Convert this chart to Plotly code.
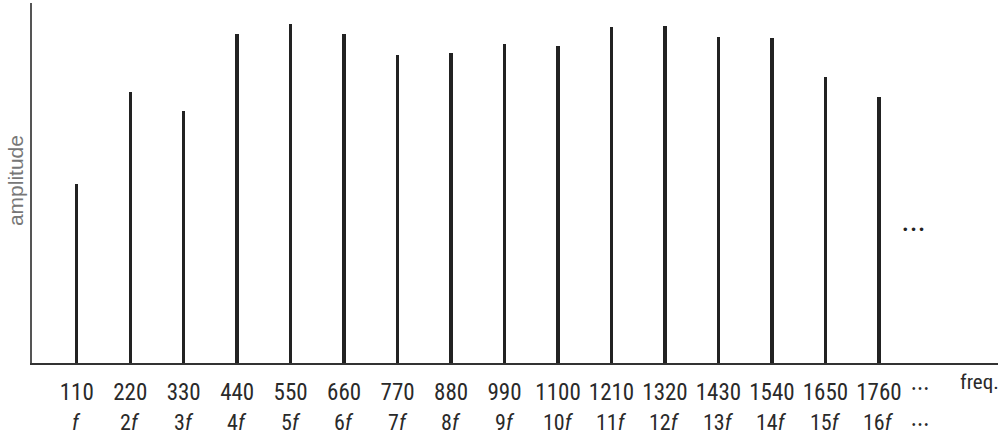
import plotly.graph_objects as go

freqs = [110, 220, 330, 440, 550, 660, 770, 880, 990, 1100, 1210, 1320, 1430, 1540, 1650, 1760]
amplitudes = [0.497, 0.753, 0.700, 0.914, 0.942, 0.914, 0.856, 0.861, 0.886, 0.881,
              0.933, 0.936, 0.906, 0.903, 0.794, 0.739]
freq_labels = [str(f) for f in freqs]
harmonic_labels = ["<i>f</i>"] + [f"{n}<i>f</i>" for n in range(2, 17)]

FONT = "'Liberation Sans Narrow', 'Arial Narrow', 'Roboto Condensed', 'Liberation Sans', sans-serif"
INK = "#222222"
TXT = "#2a2a2a"
DOTS = "•&#8202;•&#8202;•"

fig = go.Figure()
fig.add_trace(go.Bar(
    x=freqs, y=amplitudes, width=7,
    marker=dict(color=INK, line=dict(width=0)),
    hoverinfo="x+y", showlegend=False,
))

annotations = []
for f, h in zip(freqs, harmonic_labels):
    annotations.append(dict(x=f, y=-0.165, xref="x", yref="paper", text=h, showarrow=False,
                            xanchor="center", yanchor="middle",
                            font=dict(family=FONT, size=22, color=TXT)))
annotations += [
    dict(x=1832, y=0.372, xref="x", yref="paper", text="• • •", showarrow=False,
         xanchor="center", yanchor="middle",
         font=dict(family="'Liberation Sans', sans-serif", size=13, color=INK)),
    dict(x=1846, y=-0.072, xref="x", yref="paper", text="• • •", showarrow=False,
         xanchor="center", yanchor="middle",
         font=dict(family="'Liberation Sans', sans-serif", size=10, color=TXT)),
    dict(x=1846, y=-0.172, xref="x", yref="paper", text="• • •", showarrow=False,
         xanchor="center", yanchor="middle",
         font=dict(family="'Liberation Sans', sans-serif", size=10, color=TXT)),
    dict(x=0.981, y=-0.053, xref="paper", yref="paper", text="freq.", showarrow=False,
         xanchor="center", yanchor="middle",
         font=dict(family=FONT, size=21, color=TXT)),
    dict(x=-0.0176, y=0.508, xref="paper", yref="paper", text="amplitude", showarrow=False,
         textangle=-90, xanchor="center", yanchor="middle",
         font=dict(family="'Liberation Sans', Arial, sans-serif", size=21, color="#777777")),
]

fig.update_layout(
    width=1007, height=436,
    margin=dict(l=32, r=9, t=3, b=73),
    paper_bgcolor="white", plot_bgcolor="white",
    bargap=0,
    annotations=annotations,
    xaxis=dict(range=[18, 2005], showgrid=False, zeroline=False,
               showline=True, linecolor="#333333", linewidth=2,
               tickmode="array", tickvals=freqs, ticktext=freq_labels,
               ticks="", ticklabelstandoff=7,
               tickfont=dict(family=FONT, size=23, color=TXT)),
    yaxis=dict(range=[0, 1.0], showgrid=False, zeroline=False,
               showline=True, linecolor="#555555", linewidth=2,
               showticklabels=False, ticks=""),
)

fig.write_html("out.html")
